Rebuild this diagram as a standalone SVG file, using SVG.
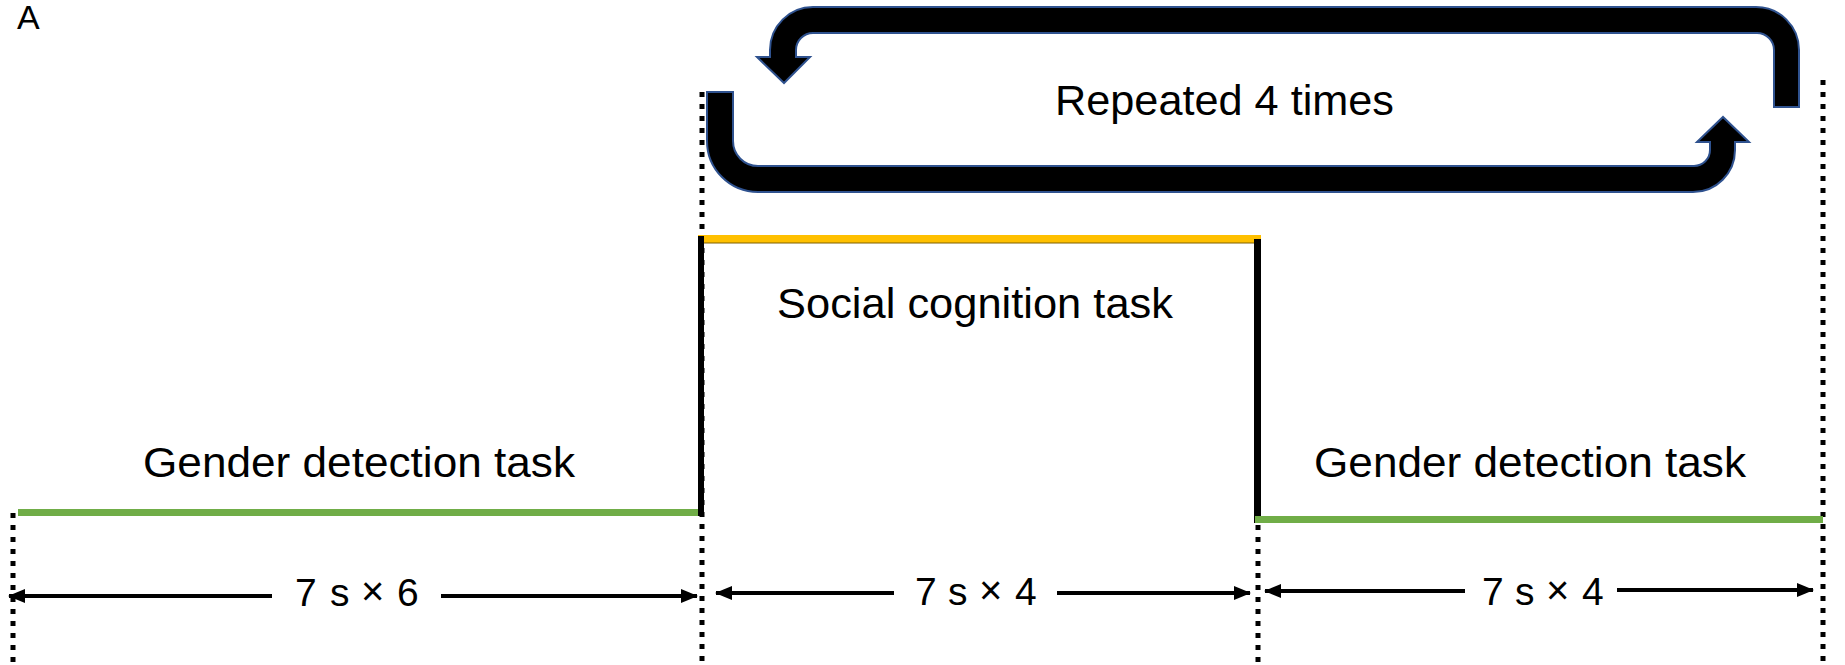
<svg xmlns="http://www.w3.org/2000/svg" width="1845" height="665" viewBox="0 0 1845 665">
<style>
text{font-family:"Liberation Sans",Arial,sans-serif;fill:#000}
.lbl{font-size:43px}
.dim{font-size:39px}
.x{font-size:40px}
.dot{stroke:#000;stroke-width:5;stroke-dasharray:5 7;fill:none}
.dl{stroke:#000;stroke-width:4;fill:none;marker-end:url(#ah)}
.loop{fill:#000;stroke:#2F528F;stroke-width:2;stroke-linejoin:miter}
</style>
<defs>
<marker id="ah" markerUnits="userSpaceOnUse" markerWidth="17" markerHeight="15" refX="16" refY="7" orient="auto" viewBox="0 0 17 15">
<path d="M0,0 L17,7 L0,14 z" fill="#000"/>
</marker>
</defs>
<text x="17" y="29" style="font-size:34px">A</text>

<g id="guides">
<line class="dot" x1="13" y1="513" x2="13" y2="665"/>
<line class="dot" x1="702" y1="92" x2="702" y2="665"/>
<line class="dot" x1="1258" y1="525" x2="1258" y2="665"/>
<line class="dot" x1="1823" y1="80" x2="1823" y2="665"/>
</g>

<g id="timeline">
<rect x="18" y="509" width="684" height="7" fill="#70AD47"/>
<rect x="698" y="235" width="563" height="8" fill="#FFC000"/>
<line x1="698" y1="243" x2="1261" y2="243" stroke="#7F6000" stroke-width="1"/>
<rect x="698" y="236" width="6" height="280" fill="#000"/>
<rect x="1254" y="239" width="7" height="284" fill="#000"/>
<rect x="1255" y="516" width="568" height="7" fill="#70AD47"/>
</g>

<g id="loop">
<path class="loop" d="M1799,107 L1799,50 A43,43 0 0 0 1756,7 L813,7 A43,43 0 0 0 770,50 L770,57 L757,57 L784,83 L810,57 L796,57 L796,50 A17,17 0 0 1 813,33 L1757,33 A17,17 0 0 1 1774,50 L1774,107 Z"/>
<path class="loop" d="M707,92 L707,141 A51,51 0 0 0 758,192 L1693,192 A42,42 0 0 0 1735,150 L1735,142 L1749,142 L1723,117 L1697,142 L1710,142 L1710,150 A16,16 0 0 1 1694,166 L758,166 A25,25 0 0 1 733,141 L733,92 Z"/>
</g>

<g id="node-repeat"><text class="lbl" x="1055" y="115" textLength="339" lengthAdjust="spacingAndGlyphs">Repeated 4 times</text></g>
<g id="node-social"><text class="lbl" x="777" y="318" textLength="396" lengthAdjust="spacingAndGlyphs">Social cognition task</text></g>
<g id="node-gender1"><text class="lbl" x="143" y="477" textLength="432" lengthAdjust="spacingAndGlyphs">Gender detection task</text></g>
<g id="node-gender2"><text class="lbl" x="1314" y="477" textLength="432" lengthAdjust="spacingAndGlyphs">Gender detection task</text></g>

<g id="connectors">
<line class="dl" x1="272" y1="596" x2="9" y2="596"/>
<line class="dl" x1="441" y1="596" x2="697" y2="596"/>
<line class="dl" x1="894" y1="593" x2="716" y2="593"/>
<line class="dl" x1="1057" y1="593" x2="1250" y2="593"/>
<line class="dl" x1="1465" y1="591" x2="1265" y2="591"/>
<line class="dl" x1="1617" y1="590" x2="1813" y2="590"/>
</g>

<g id="dim1">
<text class="dim" x="295" y="606">7</text><text class="dim" x="330" y="606">s</text><text class="x" x="361" y="605">×</text><text class="dim" x="397" y="606">6</text>
</g>
<g id="dim2">
<text class="dim" x="915" y="605">7</text><text class="dim" x="948" y="605">s</text><text class="x" x="979" y="604">×</text><text class="dim" x="1015" y="605">4</text>
</g>
<g id="dim3">
<text class="dim" x="1482" y="605">7</text><text class="dim" x="1515" y="605">s</text><text class="x" x="1546" y="604">×</text><text class="dim" x="1582" y="605">4</text>
</g>
</svg>
